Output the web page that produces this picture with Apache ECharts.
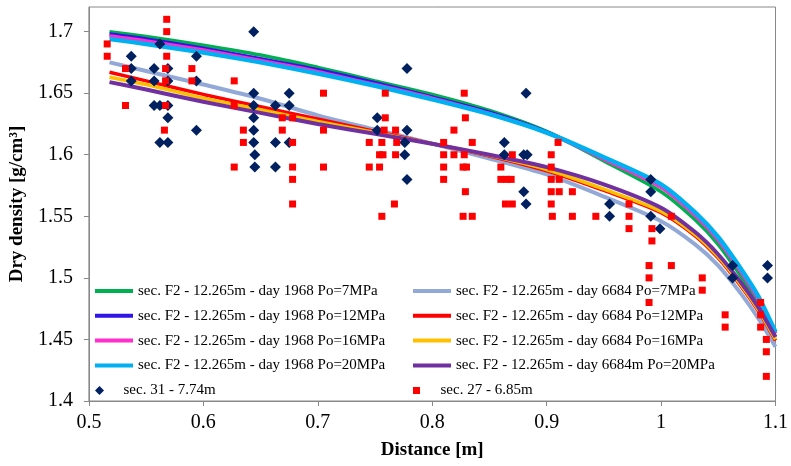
<!DOCTYPE html>
<html>
<head>
<meta charset="utf-8">
<script src="https://cdn.jsdelivr.net/npm/echarts@6/dist/echarts.min.js"></script>
<style>html,body{margin:0;padding:0;background:#fff}#chart{width:791px;height:466px}</style>
</head>
<body>
<div id="chart"></div>
<script>
// ---- data ----
const curveX = [0.518, 0.55, 0.60, 0.65, 0.70, 0.75, 0.80, 0.85, 0.90, 0.95, 1.00, 1.03, 1.05, 1.07, 1.085, 1.10];
const day1968_7MPa  = [1.700, 1.696, 1.689, 1.681, 1.671, 1.660, 1.649, 1.636, 1.619, 1.595, 1.570, 1.547, 1.527, 1.501, 1.479, 1.452];
const day1968_12MPa = [1.698, 1.694, 1.6865, 1.678, 1.669, 1.6585, 1.647, 1.6345, 1.6185, 1.597, 1.574, 1.551, 1.531, 1.505, 1.483, 1.455];
const day1968_16MPa = [1.6965, 1.6925, 1.685, 1.6765, 1.6675, 1.657, 1.646, 1.6335, 1.618, 1.5965, 1.5735, 1.5505, 1.5305, 1.5045, 1.4825, 1.4548];
const day1968_20MPa = [1.694, 1.690, 1.683, 1.675, 1.666, 1.656, 1.645, 1.633, 1.618, 1.598, 1.576, 1.553, 1.533, 1.507, 1.485, 1.456];
const day6684_7MPa  = [1.675, 1.668, 1.657, 1.6455, 1.632, 1.6205, 1.609, 1.597, 1.584, 1.566, 1.546, 1.527, 1.510, 1.487, 1.467, 1.444];
const day6684_12MPa = [1.667, 1.660, 1.649, 1.639, 1.629, 1.619, 1.609, 1.599, 1.587, 1.571, 1.553, 1.534, 1.516, 1.493, 1.473, 1.449];
const day6684_16MPa = [1.663, 1.657, 1.646, 1.6365, 1.627, 1.618, 1.609, 1.5995, 1.588, 1.572, 1.554, 1.535, 1.517, 1.494, 1.474, 1.450];
const day6684_20MPa = [1.659, 1.653, 1.643, 1.634, 1.625, 1.617, 1.609, 1.600, 1.590, 1.576, 1.557, 1.537, 1.519, 1.496, 1.476, 1.452];

const sec31 = [
  [0.537,1.68],[0.537,1.67],[0.537,1.66],
  [0.557,1.67],[0.557,1.66],[0.557,1.64],
  [0.562,1.69],[0.562,1.64],[0.562,1.61],
  [0.569,1.67],[0.569,1.66],[0.569,1.64],[0.569,1.63],[0.569,1.61],
  [0.594,1.68],[0.594,1.66],[0.594,1.62],
  [0.644,1.70],[0.644,1.65],[0.644,1.64],[0.644,1.63],[0.644,1.62],[0.644,1.61],[0.645,1.60],[0.645,1.59],
  [0.663,1.64],[0.663,1.61],[0.663,1.59],
  [0.675,1.65],[0.675,1.64],[0.675,1.61],
  [0.752,1.63],[0.752,1.62],
  [0.778,1.67],[0.778,1.62],[0.776,1.61],[0.776,1.60],[0.778,1.58],
  [0.863,1.61],[0.863,1.60],
  [0.880,1.60],[0.880,1.57],
  [0.882,1.65],[0.883,1.60],[0.882,1.56],
  [0.955,1.56],[0.955,1.55],
  [0.991,1.58],[0.991,1.57],[0.991,1.55],[0.999,1.54],
  [1.0625,1.51],[1.0625,1.50],
  [1.093,1.51],[1.093,1.50]
];
const sec27 = [
  [0.516,1.69],[0.516,1.68],
  [0.532,1.67],[0.532,1.64],
  [0.568,1.71],[0.568,1.70],[0.568,1.68],[0.567,1.67],[0.567,1.66],[0.567,1.64],[0.566,1.62],
  [0.590,1.67],[0.590,1.66],
  [0.627,1.66],[0.627,1.64],[0.627,1.59],
  [0.635,1.62],[0.635,1.61],
  [0.669,1.63],[0.669,1.62],
  [0.678,1.63],[0.678,1.61],[0.678,1.59],[0.678,1.58],[0.678,1.56],
  [0.705,1.65],[0.705,1.62],[0.705,1.59],
  [0.745,1.61],[0.745,1.59],
  [0.754,1.60],[0.754,1.59],
  [0.756,1.61],[0.757,1.60],[0.756,1.55],
  [0.759,1.65],[0.759,1.63],[0.758,1.62],
  [0.768,1.62],[0.769,1.61],[0.768,1.60],[0.767,1.56],
  [0.810,1.61],[0.810,1.60],[0.810,1.59],[0.810,1.58],
  [0.819,1.62],[0.819,1.60],
  [0.828,1.65],[0.828,1.60],[0.827,1.59],[0.827,1.55],
  [0.829,1.63],[0.830,1.59],[0.829,1.57],
  [0.835,1.61],[0.835,1.55],
  [0.860,1.59],[0.860,1.58],
  [0.865,1.58],[0.864,1.56],
  [0.870,1.60],[0.869,1.58],[0.870,1.56],
  [0.904,1.60],[0.904,1.59],[0.904,1.58],[0.904,1.57],[0.904,1.56],[0.905,1.55],
  [0.910,1.61],[0.911,1.58],[0.911,1.57],
  [0.9225,1.57],[0.9225,1.55],
  [0.943,1.55],
  [0.972,1.56],[0.972,1.55],[0.972,1.54],
  [0.9895,1.51],[0.9895,1.50],[0.9895,1.48],
  [0.992,1.54],[0.992,1.53],
  [1.009,1.55],[1.009,1.51],
  [1.036,1.50],[1.036,1.49],
  [1.056,1.47],[1.056,1.46],
  [1.087,1.48],[1.087,1.47],[1.087,1.46],
  [1.092,1.45],[1.092,1.44],[1.092,1.42]
];

const names = {
  g7:  'sec. F2 - 12.265m - day 1968 Po=7MPa',
  g12: 'sec. F2 - 12.265m - day 1968 Po=12MPa',
  g16: 'sec. F2 - 12.265m - day 1968 Po=16MPa',
  g20: 'sec. F2 - 12.265m - day 1968 Po=20MPa',
  h7:  'sec. F2 - 12.265m - day 6684 Po=7MPa',
  h12: 'sec. F2 - 12.265m - day 6684 Po=12MPa',
  h16: 'sec. F2 - 12.265m - day 6684 Po=16MPa',
  h20: 'sec. F2 - 12.265m - day 6684m Po=20MPa',
  s31: 'sec. 31 - 7.74m',
  s27: 'sec. 27 - 6.85m'
};

// ---- chart ----
const FONT = "'Liberation Serif','Times New Roman',serif";
const chart = echarts.init(document.getElementById('chart'), null, {renderer: 'canvas'});

function curve(name, vals, color, width) {
  return {
    name: name, type: 'line', data: curveX.map((x, i) => [x, vals[i]]),
    smooth: 0.25, symbol: 'none', color: color,
    lineStyle: {color: color, width: width}, itemStyle: {color: color},
    emphasis: {disabled: true}
  };
}

const legendText = {fontFamily: FONT, fontSize: 15, color: '#000'};
const lineLegendBase = {
  orient: 'vertical', itemWidth: 38, itemHeight: 4, itemGap: 9.8, padding: 0,
  selectedMode: false, textStyle: legendText
};
const symLegendBase = {
  orient: 'vertical', itemWidth: 38, padding: 0, symbolKeepAspect: true,
  selectedMode: false, textStyle: legendText
};

chart.setOption({
  animation: false,
  backgroundColor: '#fff',
  grid: {left: 87, right: 11, top: 7, bottom: 65, show: true, borderColor: '#888', borderWidth: 1},
  xAxis: {
    type: 'value', min: 0.5, max: 1.1, interval: 0.1,
    name: 'Distance [m]', nameLocation: 'middle', nameGap: 40,
    nameTextStyle: {fontFamily: FONT, fontSize: 19, fontWeight: 'bold', color: '#000'},
    axisLine: {show: true, lineStyle: {color: '#888'}},
    axisTick: {show: true, length: 5, lineStyle: {color: '#888'}},
    axisLabel: {fontFamily: FONT, fontSize: 20, color: '#000', margin: 12},
    splitLine: {show: false}
  },
  yAxis: {
    type: 'value', min: 1.4, max: 1.72, interval: 0.05,
    name: 'Dry density [g/cm³]', nameLocation: 'middle', nameGap: 58,
    nameTextStyle: {fontFamily: FONT, fontSize: 19, fontWeight: 'bold', color: '#000'},
    axisLine: {show: true, lineStyle: {color: '#888'}},
    axisTick: {show: true, length: 5, lineStyle: {color: '#888'}},
    axisLabel: {fontFamily: FONT, fontSize: 20, color: '#000', margin: 16, showMaxLabel: false},
    splitLine: {show: false}
  },
  legend: [
    Object.assign({}, lineLegendBase, {left: 95, top: 283.5,
      data: [names.g7, names.g12, names.g16, names.g20].map(n => ({name: n, icon: 'rect'}))}),
    Object.assign({}, symLegendBase, {left: 95, top: 383, itemHeight: 9,
      data: [{name: names.s31, icon: 'path://M5,0L10,5L5,10L0,5Z'}]}),
    Object.assign({}, lineLegendBase, {left: 413, top: 283.5,
      data: [names.h7, names.h12, names.h16, names.h20].map(n => ({name: n, icon: 'rect'}))}),
    Object.assign({}, symLegendBase, {left: 413, top: 383, itemHeight: 7,
      data: [{name: names.s27, icon: 'path://M0,0L10,0L10,10L0,10Z'}]})
  ],
  series: [
    curve(names.g7,  day1968_7MPa,  '#00B050', 3.5),
    curve(names.h7,  day6684_7MPa,  '#92A9D8', 4),
    curve(names.g12, day1968_12MPa, '#3015E8', 3.5),
    curve(names.h12, day6684_12MPa, '#FF0000', 3.5),
    curve(names.g16, day1968_16MPa, '#FF2ECC', 3.5),
    curve(names.h16, day6684_16MPa, '#FFC000', 3.5),
    curve(names.g20, day1968_20MPa, '#00B0F0', 4.5),
    curve(names.h20, day6684_20MPa, '#7030A0', 4),
    {name: names.s31, type: 'scatter', data: sec31, symbol: 'diamond', symbolSize: 11,
      color: '#002060', itemStyle: {color: '#002060', opacity: 1}, emphasis: {disabled: true}, z: 3},
    {name: names.s27, type: 'scatter', data: sec27, symbol: 'rect', symbolSize: 7,
      color: '#FF0000', itemStyle: {color: '#FF0000', opacity: 1}, emphasis: {disabled: true}, z: 4}
  ]
});
</script>
</body>
</html>
